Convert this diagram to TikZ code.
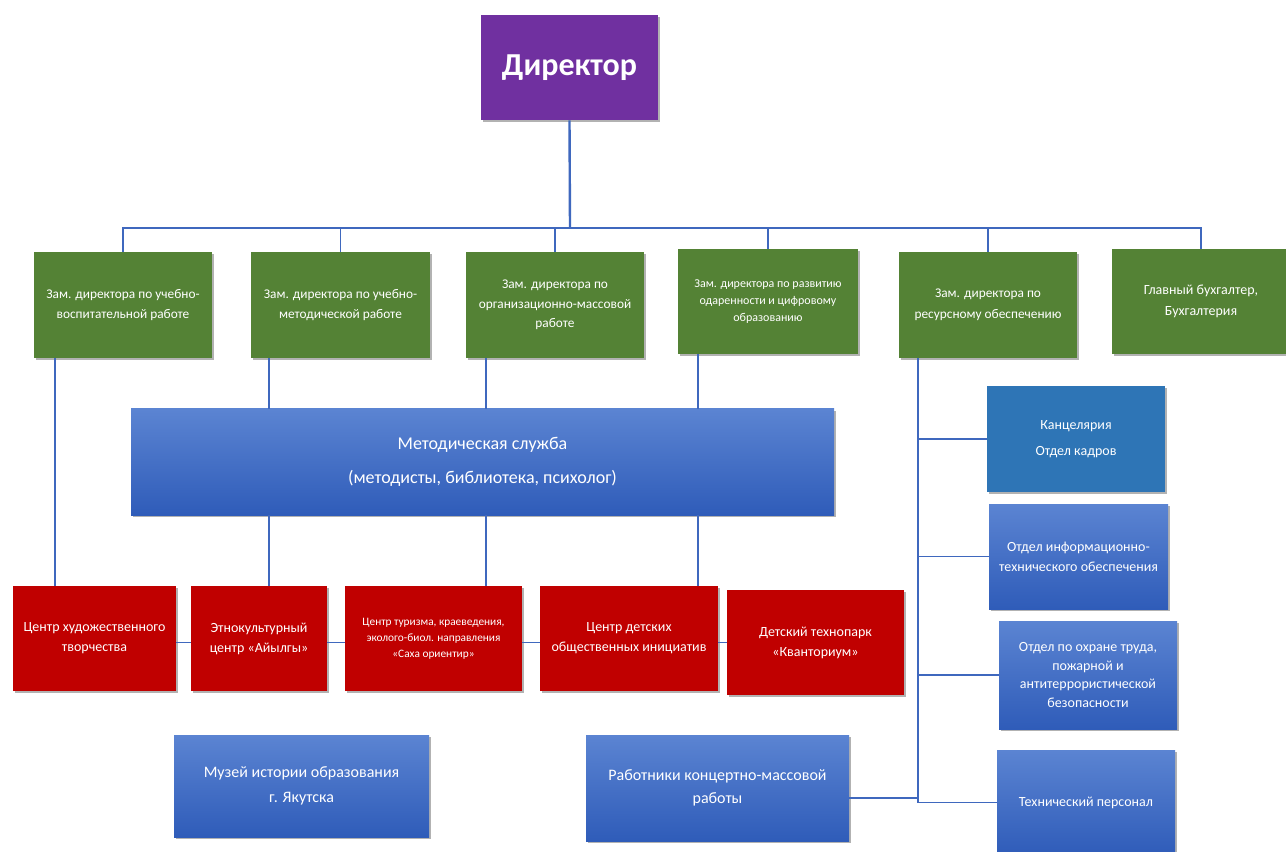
\documentclass[tikz,border=0pt]{standalone}
\usepackage{fontspec}
\setmainfont{Carlito}
\usetikzlibrary{shadows,calc}
\definecolor{dirpurple}{HTML}{7030A0}
\definecolor{zgreen}{HTML}{548235}
\definecolor{cred}{HTML}{C00000}
\definecolor{kblue}{HTML}{2E75B6}
\definecolor{gtop}{HTML}{5B84D2}
\definecolor{gbot}{HTML}{2F5CB9}
\definecolor{lineblue}{HTML}{3F68BE}
\tikzset{
  boxbase/.style={draw=none, align=center, text=white, inner sep=2pt,
    drop shadow={shadow xshift=1.2pt, shadow yshift=-1.5pt, opacity=0.3, fill=black}},
  sz/.style 2 args={minimum width=#1*0.75pt, minimum height=#2*0.75pt},
  purplebox/.style={boxbase, fill=dirpurple},
  greenbox/.style={boxbase, fill=zgreen},
  redbox/.style={boxbase, fill=cred},
  kbox/.style={boxbase, fill=kblue},
  gradbox/.style={boxbase, top color=gtop, bottom color=gbot},
  conn/.style={draw=lineblue, line width=1.3pt},
  busline/.style={draw=lineblue, line width=1.8pt},
  fs/.style 2 args={font=\fontsize{#1}{#2}\selectfont},
}
\begin{document}
\begin{tikzpicture}[x=0.75pt, y=-0.75pt]
\fill[white] (0,0) rectangle (1286,852);
\useasboundingbox (0,0) rectangle (1286,852);

% Director
\node[purplebox, sz={177}{105}, text depth=4pt, font=\fontsize{24}{30}\bfseries\selectfont] (dir) at (569.5,67.5) {Директор};

% Deputies
\node[greenbox, sz={178}{106}, fs={10}{15.5}] (g1) at (123,305) {Зам. директора по учебно-\\воспитательной  работе};
\node[greenbox, sz={179}{106}, fs={10}{15.5}] (g2) at (340.5,305) {Зам. директора по учебно-\\методической работе};
\node[greenbox, sz={178}{106}, fs={10}{14.5}] (g3) at (555,305) {Зам. директора по\\организационно-массовой\\работе};
\node[greenbox, sz={180}{105}, fs={9}{13}] (g4) at (768,301.5) {Зам.  директора по развитию\\одаренности и цифровому\\образованию};
\node[greenbox, sz={178}{106}, fs={10}{15.5}] (g5) at (988,305) {Зам. директора по\\ресурсному обеспечению};
\node[greenbox, sz={178}{105}, fs={10.5}{16}] (g6) at (1201,301.5) {Главный бухгалтер,\\Бухгалтерия};

% Methodical service
\node[gradbox, sz={703}{106}, fs={13.5}{25}] (meth) at (482.5,462) {Методическая служба\\(методисты, библиотека,  психолог)};

% Centres
\node[redbox, sz={163}{105}, fs={10.5}{15}] (r1) at (94.5,638.5) {Центр художественного\\творчества};
\node[redbox, sz={136}{105}, fs={10.5}{15}] (r2) at (259,638.5) {Этнокультурный\\центр  «Айылгы»};
\node[redbox, sz={177}{105}, fs={8.5}{12}] (r3) at (433.5,638.5) {Центр туризма,  краеведения,\\эколого-биол. направления\\«Саха  ориентир»};
\node[redbox, sz={178}{105}, fs={10.5}{15}] (r4) at (629,638.5) {Центр детских\\общественных  инициатив};
\node[redbox, sz={177}{105}, fs={10.5}{15}] (r5) at (815.5,642.5) {Детский технопарк\\«Кванториум»};

% Resource departments
\node[kbox, sz={178}{106}, fs={10.5}{20}] (kanc) at (1076,439) {Канцелярия\\Отдел кадров};
\node[gradbox, sz={179}{105}, fs={10.5}{15}] (info) at (1078.5,556.5) {Отдел информационно-\\технического  обеспечения};
\node[gradbox, sz={178}{108}, fs={10.5}{14}] (ohr) at (1088,675) {Отдел по охране  труда,\\пожарной  и\\антитеррористической\\безопасности};
\node[gradbox, sz={178}{105}, fs={10.5}{15}] (tech) at (1086,802.5) {Технический персонал};

% Bottom boxes
\node[gradbox, sz={255}{102}, fs={12}{19}] (mus) at (301.5,786) {Музей истории образования\\г. Якутска};
\node[gradbox, sz={263}{106}, fs={12}{17}] (work) at (717.5,788) {Работники концертно-массовой\\работы};

% Director to deputies
\coordinate (bus) at (570,228);
\draw[busline] (dir.south) -- (bus);
\foreach \g in {g1,g2,g3,g4,g5,g6}{
  \draw[conn] (bus) -| (\g.north);
}
\draw[busline] (bus -| g1.north) -- (bus -| g6.north);

% Deputy 1 to centre 1
\draw[conn] ($(g1.south west)+(21,0)$) coordinate (t1) -- (t1 |- r1.north);

% Deputies 2-4 to methodical service and down to centres
\draw[conn] ($(g2.south west)+(18,0)$) coordinate (t2) -- (t2 |- meth.north);
\draw[conn] ($(g3.south west)+(20,0)$) coordinate (t3) -- (t3 |- meth.north);
\draw[conn] ($(g4.south west)+(20,0)$) coordinate (t4) -- (t4 |- meth.north);
\draw[conn] (t2 |- meth.south) -- (t2 |- r2.north);
\draw[conn] (t3 |- meth.south) -- (t3 |- r3.north);
\draw[conn] (t4 |- meth.south) -- (t4 |- r4.north);

% Centres row
\draw[conn] (r1.east |- r5.west) -- (r2.west |- r5.west);
\draw[conn] (r2.east |- r5.west) -- (r3.west |- r5.west);
\draw[conn] (r3.east |- r5.west) -- (r4.west |- r5.west);
\draw[conn] (r4.east |- r5.west) -- (r5.west);

% Resource deputy branch
\draw[conn] ($(g5.south west)+(19,0)$) coordinate (t5) -- (t5 |- tech.west) -- (tech.west);
\draw[conn] (t5 |- kanc.west) -- (kanc.west);
\draw[conn] (t5 |- info.west) -- (info.west);
\draw[conn] (t5 |- ohr.west) -- (ohr.west);
\draw[conn] ($(work.east)+(0,10)$) coordinate (w5) -- (w5 -| t5);
\end{tikzpicture}
\end{document}
